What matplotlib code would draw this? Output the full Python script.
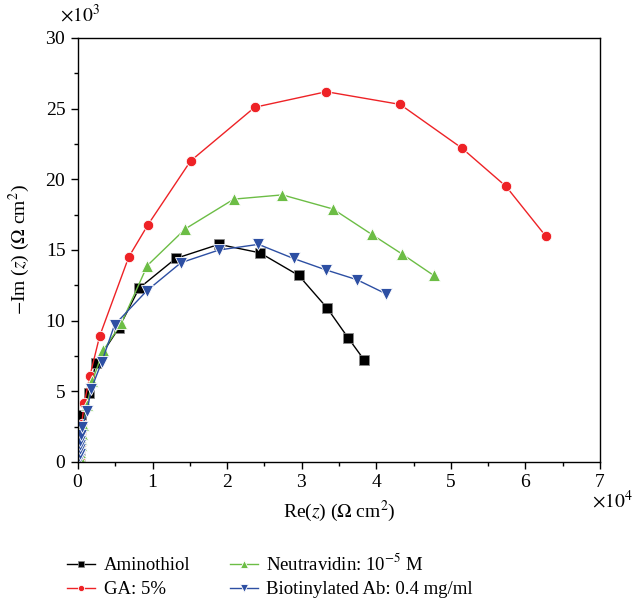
import matplotlib
matplotlib.use("Agg")
import matplotlib.pyplot as plt

plt.rcParams['font.family'] = ['Liberation Serif', 'DejaVu Serif']
plt.rcParams['mathtext.fontset'] = 'stix'

# impedance data, Ohm cm^2
amino_re = [250, 280, 300, 320, 350, 450, 1500, 2400, 5500, 8200, 13100, 18900,
            24400, 29600, 33400, 36200, 38400]
amino_im = [300, 700, 1200, 1700, 2400, 3300, 4900, 7000, 9500, 12300, 14400, 15400,
            14800, 13200, 10900, 8800, 7200]

ga_re = [250, 300, 350, 450, 500, 850, 1600, 2900, 6800, 9400, 15100, 23700,
         33300, 43200, 51500, 57400, 62700]
ga_im = [300, 800, 1300, 2000, 2700, 4200, 6100, 8900, 14500, 16800, 21300, 25100,
         26200, 25300, 22200, 19500, 16000]

neutra_re = [250, 300, 350, 450, 500, 700, 1200, 1900, 3400, 5800, 9300, 14400,
             20900, 27400, 34200, 39400, 43500, 47700]
neutra_im = [300, 700, 1200, 1600, 2000, 2600, 4000, 5700, 7900, 9800, 13900, 16500,
             18600, 18900, 17900, 16100, 14700, 13200]

biot_re = [200, 200, 250, 250, 300, 300, 350, 600, 1200, 1800, 3200, 4900, 9200,
           13800, 18900, 24200, 28900, 33200, 37400, 41300]
biot_im = [200, 400, 600, 900, 1200, 1500, 1900, 2500, 3600, 5200, 7100, 9700, 12100,
           14100, 15000, 15400, 14400, 13600, 12900, 11900]

labels = ['Aminothiol', 'GA: 5%', 'Neutravidin: 10$^{-5}$ M', 'Biotinylated Ab: 0.4 mg/ml']

fig = plt.figure(figsize=(6.35, 6.02), dpi=100)
ax = fig.add_axes([78 / 635, 1 - 462 / 602, 522 / 635, 424 / 602])

ax.plot(amino_re, amino_im, color='black', lw=1, marker='s', ms=6.5,
        mec='#888888', mew=0.6, label=labels[0])
ax.plot(ga_re, ga_im, color='#ee2226', lw=1, marker='o', ms=7.5,
        mec='white', mew=0.6, label=labels[1])
ax.plot(neutra_re, neutra_im, color='#6cbd45', lw=1, marker='^', ms=8.5,
        mec='white', mew=0.6, label=labels[2])
ax.plot(biot_re, biot_im, color='#2d4fa3', lw=1, marker='v', ms=8.5,
        mec='white', mew=0.6, label=labels[3])

ax.set_xlim(0, 70000)
ax.set_ylim(0, 30000)
ax.set_xticks(range(0, 70001, 10000))
ax.set_xticks(range(5000, 70000, 10000), minor=True)
ax.set_yticks(range(0, 30001, 5000))
ax.set_yticks(range(2500, 30000, 5000), minor=True)
ax.ticklabel_format(axis='x', style='sci', scilimits=(4, 4), useMathText=True)
ax.ticklabel_format(axis='y', style='sci', scilimits=(3, 3), useMathText=True)
# place the multipliers by hand, like the original
ax.xaxis.get_offset_text().set_visible(False)
ax.yaxis.get_offset_text().set_visible(False)
fig.text(633 / 635, 1 - 501 / 602, '$\\times 10^4$', fontsize=14, ha='right', va='center')
fig.text(60 / 635, 1 - 15 / 602, '$\\times 10^3$', fontsize=14, ha='left', va='center')

ax.tick_params(which='both', direction='out', top=False, right=False, labelsize=14, width=1)
ax.tick_params(which='major', length=5)
ax.tick_params(which='minor', length=3)
for s in ax.spines.values():
    s.set_linewidth(1)

ax.set_xlabel('Re($z$) ($\\Omega$ cm$^2$)', fontsize=14, labelpad=6)
ax.set_ylabel('$-$Im ($z$) ($\\Omega$ cm$^2$)', fontsize=14, labelpad=10)

fig.legend(loc='lower left', bbox_to_anchor=(67 / 635, 0.006), ncol=2, frameon=False,
           fontsize=13.5, handlelength=1.5, markerscale=0.6, columnspacing=2.1,
           labelspacing=0.38, handletextpad=0.45, borderpad=0, borderaxespad=0)

fig.savefig('out.png', dpi=100)
